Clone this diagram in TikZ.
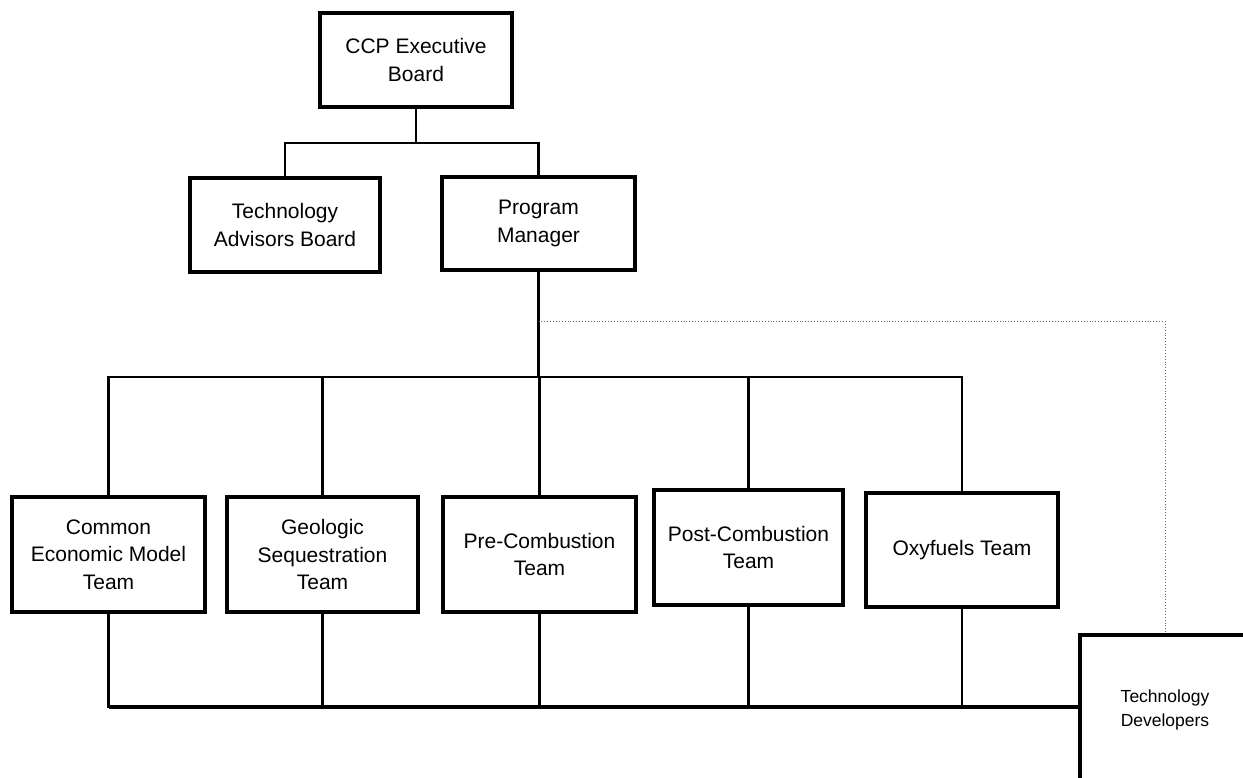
\documentclass[tikz,border=0pt]{standalone}
\usepackage{fontspec}
\setmainfont{Liberation Sans}
\begin{document}
\begin{tikzpicture}[x=1pt,y=-1pt,
  orgbox/.style={draw=black, line width=3.2pt, fill=white, align=center, inner sep=0pt,
    font=\fontsize{21}{27.5}\selectfont},
  link/.style={line width=2.9pt, line cap=rect},
  dotlink/.style={draw=black!60, line width=0.9pt, dotted}]
\useasboundingbox (0,0) rectangle (1243,777);
\clip (0,0) rectangle (1243,777);
% coordinates
\coordinate (j1) at (416,143);
\coordinate (topbus) at (538.5,377);
\coordinate (dotstart) at (538.5,321);
\coordinate (botbus) at (108.5,707);
% boxes
\node[orgbox, minimum width=192pt, minimum height=94pt] (ccp) at (416,60) {CCP Executive\\Board};
\node[orgbox, minimum width=190pt, minimum height=94pt] (tab) at (285,225) {Technology\\Advisors Board};
\node[orgbox, minimum width=193pt, minimum height=93pt] (pm) at (538.5,223.5) {Program\\Manager};
\node[orgbox, minimum width=193pt, minimum height=115pt] (cem) at (108.5,554.5) {Common\\Economic Model\\Team};
\node[orgbox, minimum width=191pt, minimum height=115pt] (geo) at (322.5,554.5) {Geologic\\Sequestration\\Team};
\node[orgbox, minimum width=193pt, minimum height=115pt] (pre) at (539.5,554.5) {Pre-Combustion\\Team};
\node[orgbox, minimum width=189pt, minimum height=115pt] (post) at (748.5,547.5) {Post-Combustion\\Team};
\node[orgbox, minimum width=192pt, minimum height=114pt] (oxy) at (962,550) {Oxyfuels Team};
\node[orgbox, minimum width=170pt, minimum height=150pt, font=\fontsize{17.5}{24.5}\selectfont] (td) at (1165,710) {Technology\\Developers};
% top connectors
\draw[link] (ccp.south) -- (j1);
\draw[link] (j1) -| (tab.north);
\draw[link] (j1) -| (pm.north);
\draw[link] (pm.south) -- (topbus);
\draw[link] (cem.north |- topbus) -- (oxy.north |- topbus);
\foreach \t in {cem,geo,pre,post,oxy}{
  \draw[link] (\t.north |- topbus) -- (\t.north);
  \draw[link] (\t.south) -- (\t.south |- botbus);
}
\draw[line width=3.4pt] (botbus) -- (td.west |- botbus);
% dotted link
\draw[dotlink] (dotstart) -| (td.north);
\end{tikzpicture}
\end{document}
